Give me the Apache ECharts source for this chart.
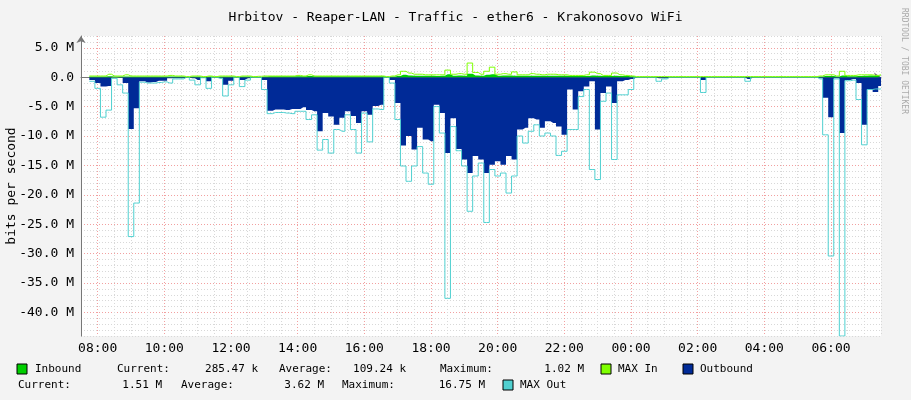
<!DOCTYPE html>
<html>
<head>
<meta charset="utf-8">
<script src="https://cdn.jsdelivr.net/npm/echarts@6/dist/echarts.min.js"></script>
<style>
html, body { margin: 0; padding: 0; background: #f3f3f3; }
#chart { width: 911px; height: 400px; }
</style>
</head>
<body>
<div id="chart"></div>
<script>
// 10-minute slots, 07:30 -> 07:30 next day (hours, >24 = next day)
var startHour = 7.5;
var slotHours = 1 / 6;

// outbound traffic, Mbit/s (drawn negative)
var outbound = [
  null, null, -0.5, -1, -1.6, -1.5, 0, -0.1, -1, -8.8,
  -5.3, -0.7, -0.9, -0.8, -0.6, -0.6, -0.2, -0.2, -0.2, 0,
  -0.2, -0.5, 0, -0.7, 0, -0.1, -1.3, -0.6, 0, -0.5,
  -0.2, 0, 0, -0.5, -5.7, -5.5, -5.5, -5.6, -5.4, -5.4,
  -5.1, -5.6, -5.8, -9.2, -6.1, -6.7, -8.1, -6.9, -5.8, -6.6,
  -7.8, -5.8, -6.4, -4.9, -4.7, 0, -0.5, -4.4, -11.6, -10,
  -12.3, -8.6, -10.6, -10.9, -4.7, -6.1, -12.9, -7, -12.2, -14,
  -16.3, -13.4, -14, -16.3, -14.9, -14.3, -14.9, -13.4, -14, -8.9,
  -8.6, -7, -7.2, -8.6, -7.5, -7.8, -8.4, -9.8, -2.1, -5.5,
  -2.4, -1.6, -0.7, -8.9, -2.7, -1.6, -4.4, -0.7, -0.5, -0.3,
  0, 0, 0, 0, -0.2, -0.2, 0, 0, 0, 0,
  0, 0, -0.5, 0, 0, 0, 0, 0, 0, 0,
  -0.3, 0, 0, 0, 0, 0, 0, 0, 0, 0,
  0, 0, 0, -0.2, -3.5, -6.8, -0.2, -9.5, -0.5, -0.3,
  -1, -8.1, -2.1, -2.5, -1.5
];

var maxOut = [
  null, null, -0.7, -1.9, -6.8, -5.6, -0.2, -1.3, -2.7, -27.1,
  -21.4, -0.85, -1, -1, -0.9, -0.8, -1, -0.3, -0.3, 0,
  -0.5, -1.3, -0.1, -1.9, 0, -0.2, -3.2, -1.3, 0, -1.6,
  -0.5, 0, 0, -2.1, -6.2, -6, -6, -6.1, -6.2, -5.8,
  -5.8, -7.2, -6.4, -12.4, -10.6, -12.9, -8.9, -9.2, -6.4, -8.9,
  -12.9, -6.1, -11, -5.4, -5.5, 0, -1, -7.2, -15.1, -17.7,
  -15.1, -11.8, -16.3, -18.2, -5, -9.5, -37.6, -8.4, -12.5, -15.1,
  -22.8, -16.8, -14.6, -24.7, -15.7, -16.8, -16.3, -19.7, -16.8, -10,
  -11.2, -9.2, -8.1, -10, -9.5, -10, -13.3, -12.6, -8.9, -8.9,
  -3.3, -2.1, -15.7, -17.4, -4.1, -2.7, -14, -3, -3, -2.1,
  0, 0, 0, 0, -0.7, -0.3, 0, 0, 0, 0,
  0, 0, -2.6, 0, 0, 0, 0, 0, 0, 0,
  -0.7, 0, 0, 0, 0, 0, 0, 0, 0, 0,
  0, 0, 0, -0.3, -9.8, -30.4, -0.3, -44, -0.6, -0.5,
  -3.8, -11.5, -2.1, -2, -2
];

var inbound = [
  null, null, 0.1, 0.1, 0.1, 0.15, 0.1, 0.1, 0.1, 0.1,
  0.1, 0.1, 0.1, 0.1, 0.1, 0.1, 0.1, 0.1, 0.1, 0.05,
  0.1, 0.1, 0.05, 0.1, 0.05, 0.1, 0.1, 0.1, 0.05, 0.1,
  0.1, 0.05, 0.05, 0.1, 0.15, 0.15, 0.15, 0.15, 0.15, 0.15,
  0.15, 0.2, 0.15, 0.15, 0.15, 0.15, 0.15, 0.15, 0.15, 0.15,
  0.15, 0.15, 0.15, 0.15, 0.15, 0.05, 0.1, 0.2, 0.4, 0.3,
  0.25, 0.25, 0.25, 0.25, 0.2, 0.25, 0.5, 0.25, 0.3, 0.25,
  0.6, 0.3, 0.25, 0.4, 0.5, 0.25, 0.3, 0.3, 0.25, 0.25,
  0.25, 0.25, 0.25, 0.25, 0.25, 0.25, 0.25, 0.25, 0.2, 0.2,
  0.2, 0.2, 0.3, 0.25, 0.2, 0.2, 0.25, 0.2, 0.2, 0.15,
  0.05, 0.05, 0.05, 0.05, 0.05, 0.05, 0.05, 0.05, 0.05, 0.05,
  0.05, 0.05, 0.05, 0.05, 0.05, 0.05, 0.05, 0.05, 0.05, 0.05,
  0.05, 0.05, 0.05, 0.05, 0.05, 0.05, 0.05, 0.05, 0.05, 0.05,
  0.05, 0.05, 0.05, 0.1, 0.2, 0.2, 0.1, 0.3, 0.15, 0.15,
  0.2, 0.25, 0.3, 0.25, 0.29
];

var maxIn = [
  null, null, 0.2, 0.2, 0.2, 0.5, 0.2, 0.2, 0.4, 0.2,
  0.2, 0.2, 0.2, 0.2, 0.2, 0.2, 0.3, 0.2, 0.2, 0.1,
  0.2, 0.2, 0.1, 0.2, 0.1, 0.2, 0.2, 0.2, 0.1, 0.2,
  0.2, 0.1, 0.15, 0.2, 0.2, 0.2, 0.2, 0.2, 0.2, 0.3,
  0.2, 0.4, 0.2, 0.2, 0.2, 0.2, 0.2, 0.2, 0.2, 0.2,
  0.2, 0.2, 0.2, 0.2, 0.2, 0.1, 0.2, 0.4, 1.0, 0.7,
  0.5, 0.5, 0.4, 0.4, 0.4, 0.4, 1.2, 0.5, 0.6, 0.5,
  2.4, 0.8, 0.5, 1.0, 1.7, 0.5, 0.6, 0.5, 0.9, 0.4,
  0.4, 0.6, 0.5, 0.4, 0.5, 0.5, 0.4, 0.4, 0.3, 0.3,
  0.3, 0.4, 0.85, 0.6, 0.3, 0.3, 0.7, 0.4, 0.3, 0.2,
  0.1, 0.1, 0.1, 0.1, 0.1, 0.1, 0.1, 0.1, 0.1, 0.1,
  0.1, 0.1, 0.1, 0.1, 0.1, 0.1, 0.1, 0.1, 0.1, 0.1,
  0.1, 0.1, 0.1, 0.1, 0.1, 0.1, 0.1, 0.1, 0.1, 0.1,
  0.1, 0.1, 0.1, 0.2, 0.4, 0.4, 0.2, 1.0, 0.3, 0.3,
  0.4, 0.4, 0.4, 0.3, 0.4
];

function pairs(arr) {
  var d = [];
  for (var i = 0; i < arr.length; i++) {
    d.push([startHour + i * slotHours, arr[i]]);
  }
  return d;
}

var mono = 'DejaVu Sans Mono';
var minorGrid = '#d8d8d8';
var majorGrid = '#f2a0a0';

var myChart = echarts.init(document.getElementById('chart'));

function legendText(x, y, text, align) {
  return { type: 'text', x: x, y: y,
    style: { text: text, font: '11px "' + mono + '"', fill: '#000', align: align || 'left', verticalAlign: 'middle' } };
}
function legendBox(x, y, color) {
  return { type: 'rect', shape: { x: x, y: y - 5, width: 10, height: 10 },
    style: { fill: color, stroke: '#000', lineWidth: 1 } };
}

var option = {
  animation: false,
  backgroundColor: '#f3f3f3',
  title: {
    text: 'Hrbitov - Reaper-LAN - Traffic - ether6 - Krakonosovo WiFi',
    left: 'center', top: 6,
    textStyle: { fontFamily: mono, fontSize: 13, fontWeight: 'normal', color: '#000' }
  },
  grid: { left: 81, right: 30, top: 36, bottom: 64, show: true, backgroundColor: '#fff', borderWidth: 0,
    containLabel: false, outerBoundsMode: 'none' },
  xAxis: {
    type: 'value', min: 7.5, max: 31.5, interval: 0.5,
    axisLine: { lineStyle: { color: '#777' }, symbol: ['none', 'arrow'], symbolSize: [7, 7] },
    axisTick: { show: false },
    axisLabel: {
      fontFamily: mono, fontSize: 13, color: '#000', margin: 6,
      formatter: function (v) {
        if (Math.abs(v - Math.round(v)) > 0.01 || Math.round(v) % 2 !== 0) return '';
        var h = Math.round(v) % 24;
        return (h < 10 ? '0' : '') + h + ':00';
      }
    },
    splitLine: { show: true, lineStyle: { color: [minorGrid, majorGrid, minorGrid, minorGrid], type: [1, 2] } }
  },
  yAxis: {
    type: 'value', min: -44, max: 7, interval: 1,
    axisLine: { show: true, lineStyle: { color: '#777' }, symbol: ['none', 'arrow'], symbolSize: [7, 7] },
    axisTick: { show: false },
    axisLabel: {
      interval: 0, fontFamily: mono, fontSize: 13, color: '#000', margin: 7,
      formatter: function (v) {
        if (v % 5 !== 0) return '';
        if (v === 0) return '0.0';
        return v.toFixed(1) + ' M';
      }
    },
    splitLine: { show: true, lineStyle: { color: [minorGrid, minorGrid, minorGrid, minorGrid, majorGrid], type: [1, 2] } }
  },
  series: [
    { name: 'Outbound', type: 'line', step: 'middle', showSymbol: false, data: pairs(outbound),
      lineStyle: { width: 0 }, areaStyle: { color: '#002a97', opacity: 1 }, z: 2 },
    { name: 'MAX Out', type: 'line', step: 'middle', showSymbol: false, data: pairs(maxOut),
      lineStyle: { width: 1, color: '#50d0d0' }, z: 3 },
    { name: 'Inbound', type: 'line', step: 'middle', showSymbol: false, data: pairs(inbound),
      lineStyle: { width: 0 }, areaStyle: { color: '#00cf00', opacity: 1 }, z: 4 },
    { name: 'MAX In', type: 'line', step: 'middle', showSymbol: false, data: pairs(maxIn),
      lineStyle: { width: 1, color: '#7fff00' }, z: 5 }
  ],
  graphic: [
    { type: 'text', x: 12, y: 186, rotation: Math.PI / 2,
      style: { text: 'bits per second', font: '13px "' + mono + '"', fill: '#000', align: 'center', verticalAlign: 'middle' } },
    { type: 'text', x: 904, y: 8, rotation: -Math.PI / 2,
      style: { text: 'RRDTOOL / TOBI OETIKER', font: '8px "' + mono + '"', fill: '#aaa', verticalAlign: 'middle' } },
    legendBox(17, 369, '#00cf00'),
    legendText(35, 369, 'Inbound'),
    legendText(117, 369, 'Current:'),
    legendText(258, 369, '285.47 k', 'right'),
    legendText(279, 369, 'Average:'),
    legendText(406, 369, '109.24 k', 'right'),
    legendText(440, 369, 'Maximum:'),
    legendText(584, 369, '1.02 M', 'right'),
    legendBox(601, 369, '#7fff00'),
    legendText(618, 369, 'MAX In'),
    legendBox(683, 369, '#002a97'),
    legendText(700, 369, 'Outbound'),
    legendText(18, 385, 'Current:'),
    legendText(162, 385, '1.51 M', 'right'),
    legendText(181, 385, 'Average:'),
    legendText(324, 385, '3.62 M', 'right'),
    legendText(342, 385, 'Maximum:'),
    legendText(485, 385, '16.75 M', 'right'),
    legendBox(503, 385, '#50d0d0'),
    legendText(520, 385, 'MAX Out')
  ]
};
myChart.setOption(option);
</script>
</body>
</html>
